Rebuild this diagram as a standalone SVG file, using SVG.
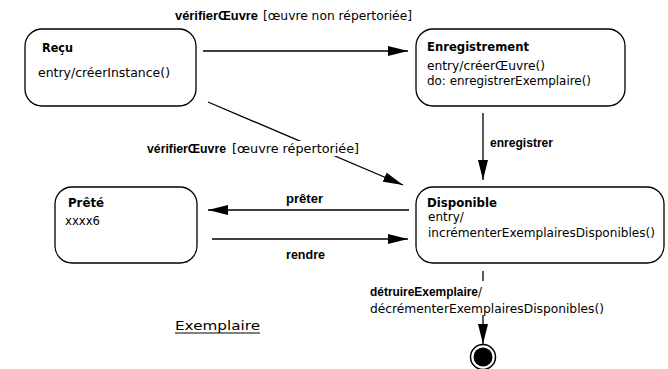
<svg xmlns="http://www.w3.org/2000/svg" width="668" height="369" viewBox="0 0 668 369">
<defs>
<style>
.box{fill:#fff;stroke:#000;stroke-width:1.3}
.ln{fill:none;stroke:#000;stroke-width:1.3}
text{font-family:"DejaVu Sans","Liberation Sans",sans-serif;font-size:12px;fill:#000}
.b{font-family:"Liberation Sans","DejaVu Sans",sans-serif;font-weight:bold;font-size:12.5px}
.t{font-weight:bold;font-size:13px}
</style>
<marker id="ah" markerUnits="userSpaceOnUse" markerWidth="20" markerHeight="10" refX="20" refY="5" orient="auto">
<path d="M0,0 L20,5 L0,10 z" fill="#000"/>
</marker>
</defs>
<g id="connectors">
<path class="ln" d="M203,51 L408,51" marker-end="url(#ah)"/>
<path class="ln" d="M208,102 L403,185" marker-end="url(#ah)"/>
<path class="ln" d="M483,113 L483,180" marker-end="url(#ah)"/>
<path class="ln" d="M409,210 L208,210" marker-end="url(#ah)"/>
<path class="ln" d="M212,239 L408,239" marker-end="url(#ah)"/>
<path class="ln" d="M483,271 L483,344" marker-end="url(#ah)"/>
<text class="b" x="175" y="20" textLength="83" lengthAdjust="spacingAndGlyphs">vérifierŒuvre</text>
<text x="263" y="20" textLength="149" lengthAdjust="spacingAndGlyphs">[œuvre non répertoriée]</text>
<rect x="144" y="141" width="216" height="15" fill="#fff"/>
<text class="b" x="147" y="153" textLength="79" lengthAdjust="spacingAndGlyphs">vérifierŒuvre</text>
<text x="232" y="153" textLength="127" lengthAdjust="spacingAndGlyphs">[œuvre répertoriée]</text>
<text class="b" x="490" y="147" textLength="63" lengthAdjust="spacingAndGlyphs">enregistrer</text>
<text class="b" x="286" y="203" textLength="37" lengthAdjust="spacingAndGlyphs">prêter</text>
<text class="b" x="286" y="259" textLength="39" lengthAdjust="spacingAndGlyphs">rendre</text>
<rect x="366" y="281" width="242" height="34" fill="#fff"/>
<text x="370" y="296" textLength="112" lengthAdjust="spacingAndGlyphs"><tspan class="b" style="font-size:12px">détruireExemplaire</tspan>/</text>
<text x="370" y="313" textLength="234" lengthAdjust="spacingAndGlyphs">décrémenterExemplairesDisponibles()</text>
</g>
<g id="recu">
<rect class="box" x="25" y="29" width="171" height="77" rx="17" ry="17"/>
<text class="t" x="42" y="52" textLength="31" lengthAdjust="spacingAndGlyphs">Reçu</text>
<text x="38" y="77" textLength="132" lengthAdjust="spacingAndGlyphs">entry/créerInstance()</text>
</g>
<g id="enregistrement">
<rect class="box" x="416" y="29" width="209" height="77" rx="17" ry="17"/>
<text class="t" x="427" y="51" textLength="102" lengthAdjust="spacingAndGlyphs">Enregistrement</text>
<text x="427" y="70" textLength="118" lengthAdjust="spacingAndGlyphs">entry/créerŒuvre()</text>
<text x="427" y="85" textLength="164" lengthAdjust="spacingAndGlyphs">do: enregistrerExemplaire()</text>
</g>
<g id="disponible">
<rect class="box" x="416" y="187" width="248" height="76" rx="17" ry="17"/>
<text class="t" x="427" y="207" textLength="70" lengthAdjust="spacingAndGlyphs">Disponible</text>
<text x="428" y="221">entry/</text>
<text x="428" y="237" textLength="227" lengthAdjust="spacingAndGlyphs">incrémenterExemplairesDisponibles()</text>
</g>
<g id="prete">
<rect class="box" x="55" y="187" width="142" height="76" rx="17" ry="17"/>
<text class="t" x="68" y="207" textLength="36" lengthAdjust="spacingAndGlyphs">Prêté</text>
<text x="65" y="225" textLength="35" lengthAdjust="spacingAndGlyphs">xxxx6</text>
</g>
<g id="final">
<circle cx="483" cy="357" r="12.5" fill="#fff" stroke="#000" stroke-width="1.5"/>
<circle cx="483" cy="357" r="9.5" fill="#000"/>
</g>
<g id="title">
<text x="175" y="330" style="font-size:13px" textLength="85" lengthAdjust="spacingAndGlyphs">Exemplaire</text>
<line x1="175" y1="333" x2="260" y2="333" stroke="#000" stroke-width="1"/>
</g>
</svg>
